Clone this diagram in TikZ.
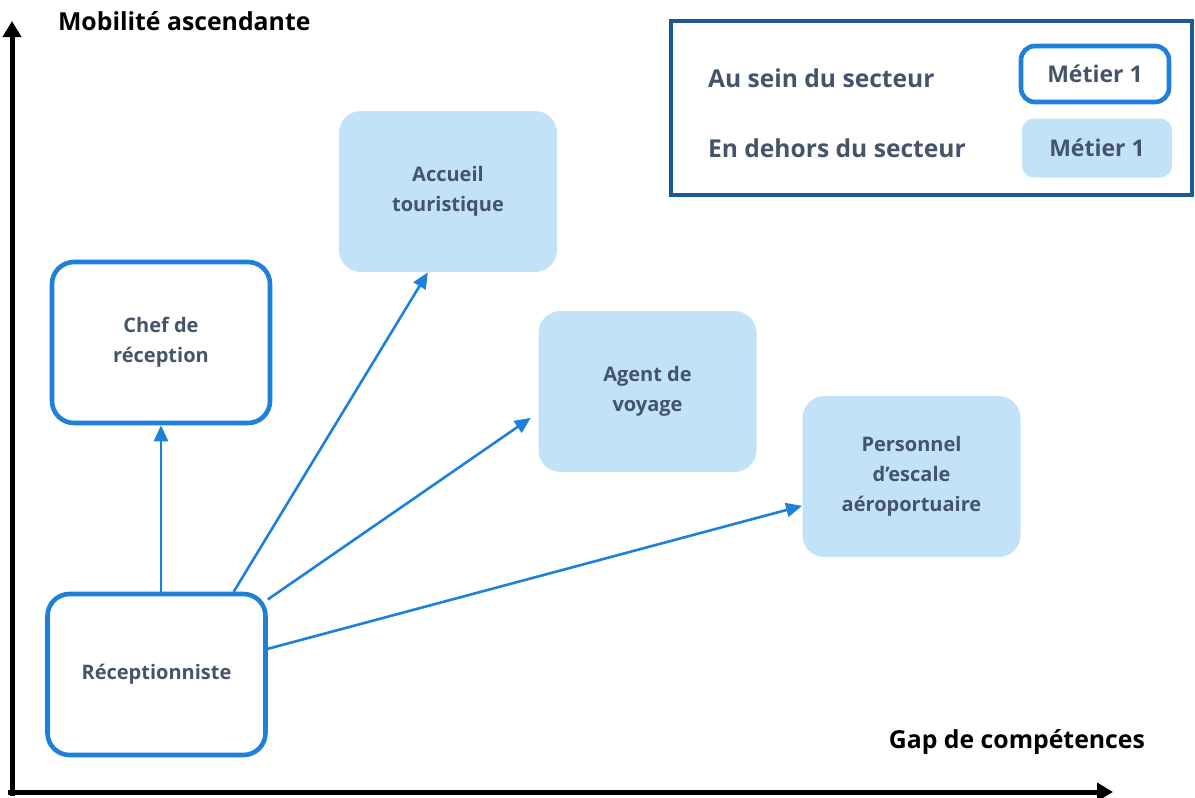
\documentclass[tikz,border=0pt]{standalone}
\usepackage{fontspec}
\setmainfont{Open Sans}
\usetikzlibrary{arrows.meta}

\definecolor{bleuTrait}{RGB}{30,128,216}
\definecolor{bleuClair}{RGB}{194,226,247}
\definecolor{ardoise}{RGB}{68,84,106}
\definecolor{bleuCadre}{RGB}{28,88,148}

\begin{document}
\begin{tikzpicture}[x=0.5pt, y=-0.5pt,
    metier/.style={rounded corners=11pt, minimum width=109pt, minimum height=80.5pt,
        align=center, text=ardoise, font=\fontsize{10}{15}\selectfont\bfseries},
    interne/.style={metier, draw=bleuTrait, line width=2.3pt, fill=white},
    externe/.style={metier, fill=bleuClair},
    fleche/.style={draw=bleuTrait, line width=1.3pt, -{Triangle[length=8pt,width=7pt]}},
    axe/.style={line width=2.5pt, -{Triangle[length=8pt,width=9pt]}},
    titre/.style={font=\fontsize{12.4}{15}\selectfont\bfseries, text=black},
    legende/.style={font=\fontsize{12.3}{15}\selectfont\bfseries, text=ardoise, anchor=west}]
    \useasboundingbox (0,0) rectangle (1195,798);

    % Axes
    \coordinate (origine) at (12,792);
    \coordinate (hautY) at (12,21);
    \coordinate (finX) at (1113,792);
    \draw[axe] (12,796) -- (hautY);
    \draw[axe] (8,792) -- (finX);
    \node[titre, anchor=west] (mobilite) at (51,21) {Mobilité ascendante};
    \node[titre, anchor=east] (gap) at (1152,742) {Gap de compétences};

    % Legende
    \draw[bleuCadre, line width=2pt] (671,21) rectangle (1192,195);
    \node[legende] (lgInt) at (701,78) {Au sein du secteur};
    \node[legende] (lgExt) at (701,148) {En dehors du secteur};
    \node[interne, minimum width=74pt, minimum height=28pt, rounded corners=7pt,
        font=\fontsize{11.5}{14}\selectfont\bfseries] (exInt) at (1095,74) {Métier 1};
    \node[externe, minimum width=75pt, minimum height=29.5pt, rounded corners=6pt,
        font=\fontsize{11.5}{14}\selectfont\bfseries] (exExt) at (1097,148) {Métier 1};

    % Metiers
    \node[interne] (recep) at (156.5,674.5) {Réceptionniste};
    \node[interne] (chef) at (161,342.5) {Chef de\\réception};
    \node[externe] (accueil) at (448,191.5) {Accueil\\touristique};
    \node[externe] (agent) at (647.5,391.5) {Agent de\\voyage};
    \node[externe] (escale) at (911.5,476.5) {Personnel\\d’escale\\aéroportuaire};

    % Passerelles
    \draw[fleche] (chef.south |- recep.north) -- (chef.south);
    \draw[fleche] (recep.47) -- (accueil.256);
    \draw[fleche, shorten >=4.5pt] (recep.34) -- (agent.191);
    \draw[fleche] (recep.13.6) -- (escale.195);
\end{tikzpicture}
\end{document}
